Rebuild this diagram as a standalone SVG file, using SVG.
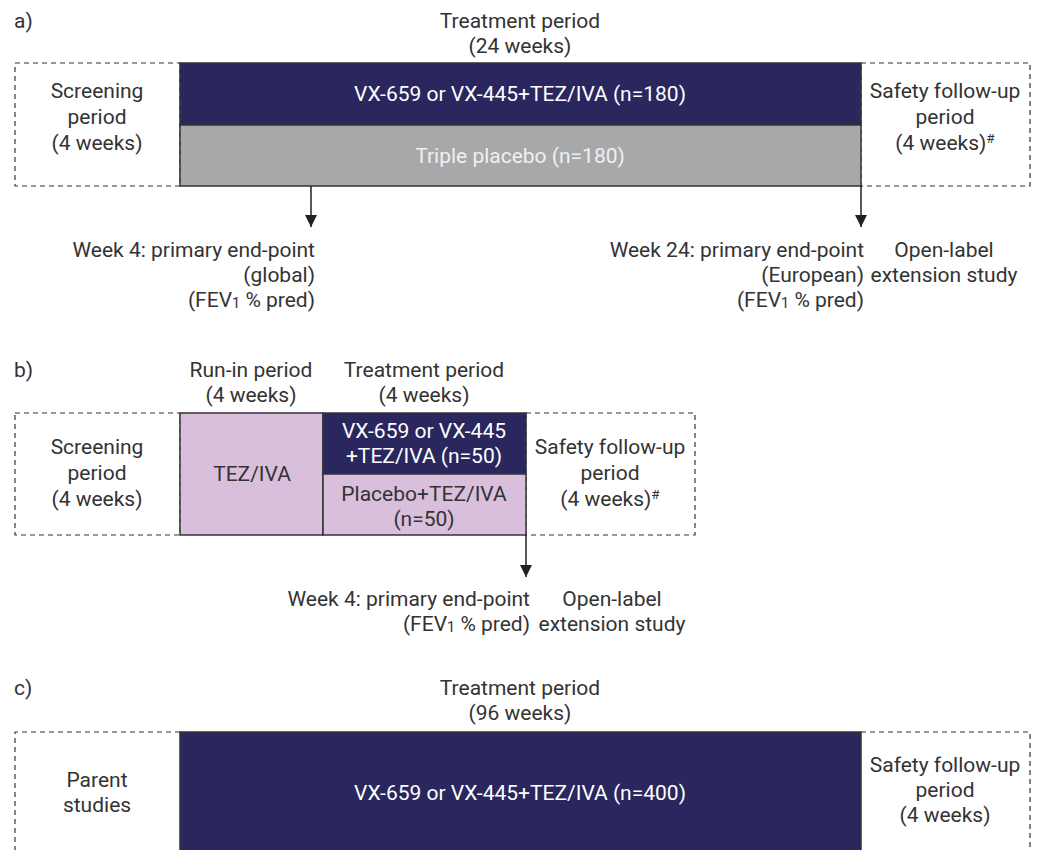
<svg xmlns="http://www.w3.org/2000/svg" width="1038" height="850" viewBox="0 0 1038 850">
<style>
text{font-family:Roboto,"Liberation Sans",sans-serif;font-size:21px;fill:#333333}
.m{text-anchor:middle}
.e{text-anchor:end}
.w{fill:#ffffff}
.lw{fill:#f0f0f0}
.dash{fill:none;stroke:#333333;stroke-width:1.2;stroke-dasharray:5 4}
.navy{fill:#29275e;stroke:#333333;stroke-width:1.5}
.grey{fill:#a7a8aa;stroke:#333333;stroke-width:1.5}
.lilac{fill:#d9bfdc;stroke:#333333;stroke-width:1.5}
.ln{stroke:#222222;stroke-width:1.5;fill:none}
.sub{font-size:14.5px}
.sup{font-size:13.5px}
</style>
<defs>
<marker id="ah" viewBox="0 0 12 12" refX="12" refY="6" markerWidth="12" markerHeight="12" markerUnits="userSpaceOnUse" orient="auto">
<path d="M0,0 L12,6 L0,12 Z" fill="#222222"/>
</marker>
</defs>

<!-- Panel a -->
<g id="panel-a-label"><text x="14" y="28">a)</text></g>
<g id="a-treatment-header">
<text class="m" x="520" y="28">Treatment period</text>
<text class="m" x="520" y="53">(24 weeks)</text>
</g>
<g id="a-screening">
<rect class="dash" x="15" y="63" width="165" height="123"/>
<text class="m" x="97" y="98">Screening</text>
<text class="m" x="97" y="124">period</text>
<text class="m" x="97" y="150">(4 weeks)</text>
</g>
<g id="a-safety">
<rect class="dash" x="861" y="63" width="169" height="123"/>
<text class="m" x="945" y="98">Safety follow-up</text>
<text class="m" x="945" y="124">period</text>
<text class="m" x="945" y="150">(4 weeks)<tspan class="sup" dy="-7">#</tspan></text>
</g>
<g id="a-active">
<rect class="navy" x="180" y="63" width="681" height="62"/>
<text class="m w" x="520" y="101">VX-659 or VX-445+TEZ/IVA (n=180)</text>
</g>
<g id="a-placebo">
<rect class="grey" x="180" y="125" width="681" height="61"/>
<text class="m lw" x="520" y="163">Triple placebo (n=180)</text>
</g>
<g id="a-week4">
<text class="e" x="315" y="257">Week 4: primary end-point</text>
<text class="e" x="315" y="282">(global)</text>
<text class="e" x="315" y="307">(FEV<tspan class="sub" dy="1">1</tspan><tspan dy="-1"> % pred)</tspan></text>
</g>
<g id="a-week24">
<text class="e" x="864" y="257">Week 24: primary end-point</text>
<text class="e" x="864" y="282">(European)</text>
<text class="e" x="864" y="307">(FEV<tspan class="sub" dy="1">1</tspan><tspan dy="-1"> % pred)</tspan></text>
</g>
<g id="a-ole">
<text class="m" x="944" y="257">Open-label</text>
<text class="m" x="944" y="282">extension study</text>
</g>

<!-- Panel b -->
<g id="panel-b-label"><text x="14" y="377">b)</text></g>
<g id="b-runin-header">
<text class="m" x="251" y="377">Run-in period</text>
<text class="m" x="251" y="402">(4 weeks)</text>
</g>
<g id="b-treatment-header">
<text class="m" x="424" y="377">Treatment period</text>
<text class="m" x="424" y="402">(4 weeks)</text>
</g>
<g id="b-screening">
<rect class="dash" x="15" y="413" width="165" height="122"/>
<text class="m" x="97" y="454">Screening</text>
<text class="m" x="97" y="480">period</text>
<text class="m" x="97" y="506">(4 weeks)</text>
</g>
<g id="b-safety">
<rect class="dash" x="526" y="413" width="169" height="122"/>
<text class="m" x="610" y="454">Safety follow-up</text>
<text class="m" x="610" y="480">period</text>
<text class="m" x="610" y="506">(4 weeks)<tspan class="sup" dy="-7">#</tspan></text>
</g>
<g id="b-runin">
<rect class="lilac" x="180" y="413" width="143" height="122"/>
<text class="m" x="252" y="481">TEZ/IVA</text>
</g>
<g id="b-active">
<rect class="navy" x="323" y="413" width="203" height="61"/>
<text class="m w" x="424" y="438">VX-659 or VX-445</text>
<text class="m w" x="424" y="463">+TEZ/IVA (n=50)</text>
</g>
<g id="b-placebo">
<rect class="lilac" x="323" y="474" width="203" height="61"/>
<text class="m" x="424" y="501">Placebo+TEZ/IVA</text>
<text class="m" x="424" y="526">(n=50)</text>
</g>
<g id="b-week4">
<text class="e" x="530" y="606">Week 4: primary end-point</text>
<text class="e" x="530" y="631">(FEV<tspan class="sub" dy="1">1</tspan><tspan dy="-1"> % pred)</tspan></text>
</g>
<g id="b-ole">
<text class="m" x="612" y="606">Open-label</text>
<text class="m" x="612" y="631">extension study</text>
</g>

<!-- Panel c -->
<g id="panel-c-label"><text x="14" y="695">c)</text></g>
<g id="c-treatment-header">
<text class="m" x="520" y="695">Treatment period</text>
<text class="m" x="520" y="720">(96 weeks)</text>
</g>
<g id="c-parent">
<path class="dash" d="M180,732 H15 V860"/>
<text class="m" x="97" y="787">Parent</text>
<text class="m" x="97" y="812">studies</text>
</g>
<g id="c-safety">
<path class="dash" d="M861,732 H1030 V860"/>
<text class="m" x="945" y="772">Safety follow-up</text>
<text class="m" x="945" y="797">period</text>
<text class="m" x="945" y="822">(4 weeks)</text>
</g>
<g id="c-active">
<rect class="navy" x="180" y="732" width="681" height="130"/>
<text class="m w" x="520" y="800">VX-659 or VX-445+TEZ/IVA (n=400)</text>
</g>

<!-- Connectors -->
<g id="connectors">
<line class="ln" x1="311" y1="186" x2="311" y2="227" marker-end="url(#ah)"/>
<line class="ln" x1="861" y1="186" x2="861" y2="227" marker-end="url(#ah)"/>
<line class="ln" x1="526" y1="535" x2="526" y2="577" marker-end="url(#ah)"/>
</g>
</svg>
